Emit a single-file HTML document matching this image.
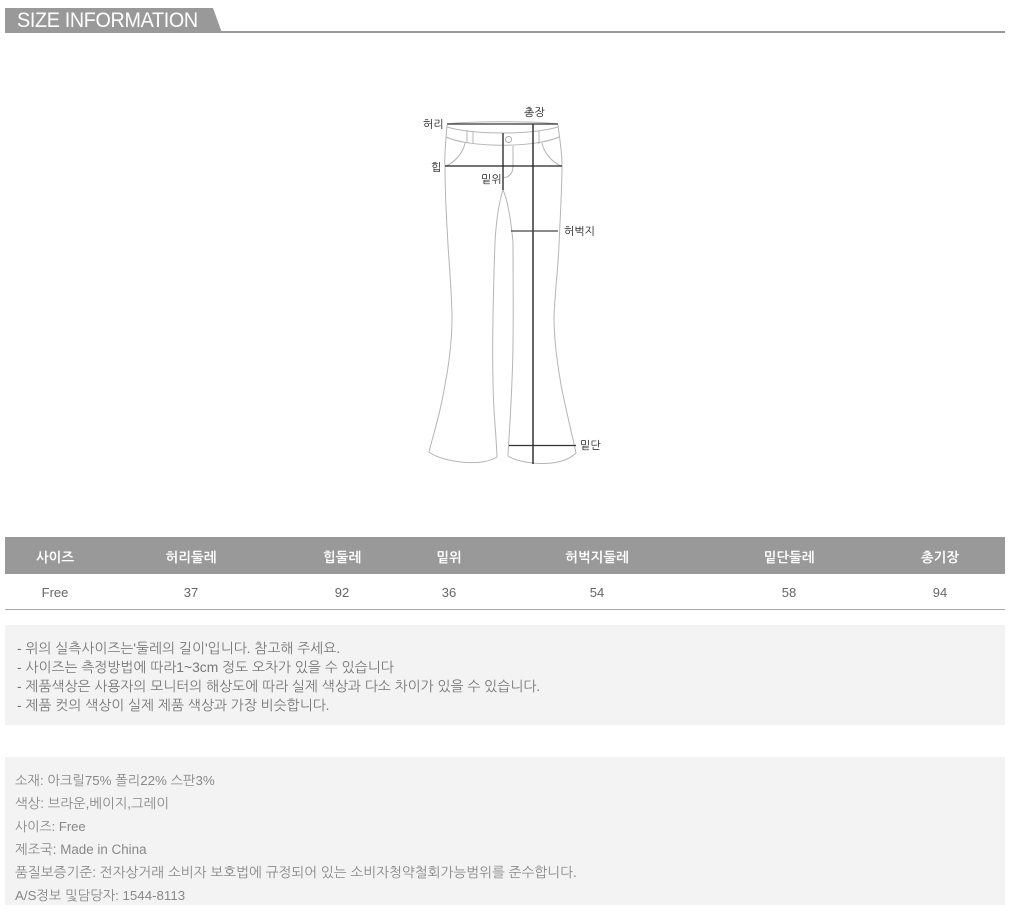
<!DOCTYPE html>
<html lang="ko">
<head>
<meta charset="utf-8">
<style>
html,body{margin:0;padding:0;background:#fff}
body{width:1017px;height:922px;position:relative;overflow:hidden;font-family:"Liberation Sans","NanumGothic","Noto Sans CJK KR",sans-serif;color:#777}
.a{position:absolute;white-space:nowrap}
.hd{top:539px;height:37px;line-height:37px;color:#fff;font-weight:bold;font-size:13.500px;text-align:center;transform:translateX(-50%)}
.td{top:574px;height:36px;line-height:37px;color:#666;font-size:13px;transform:translateX(-50%)}
.n{left:17px;font-size:13.850px;line-height:19px;color:#777}
.i{left:15px;font-size:13.700px;line-height:23px;color:#888}
.l{font-size:11px;line-height:14px;color:#222}
</style>
</head>
<body>
<svg class="a" style="left:0;top:0" width="1017" height="40">
<rect x="5" y="31" width="1000" height="2" fill="#999"/>
<polygon points="5,8 213,8 222,33 5,33" fill="#999"/>
</svg>
<div class="a" style="left:17px;top:8px;line-height:25px;font-size:21px;color:#fff;transform:scaleX(.94);transform-origin:left center;letter-spacing:-.35px">SIZE INFORMATION</div>

<svg class="a" style="left:0;top:0" width="1017" height="520" fill="none">
<g stroke="#b5b5b5" stroke-width="1">
<path d="M447,125 C446,140 444,155 445,166 C445,200 447,225 448,245 C450,275 452,300 452,317 C452,345 448,370 444,390 C440,415 433,435 429,452 C440,461 480,468 497,457 C496,430 493,410 493,380 C492,340 493,300 495,242 C496,225 498,205 503,190 C508,200 511,222 513,242 C513,300 514,340 512,380 C511,410 509,435 508,456 C520,464 560,469 576,453 C571,430 566,410 561,385 C557,360 554,340 554,317 C555,290 558,270 559,245 C560,220 562,190 562,166 C562,150 559,135 558,125"/>
<path d="M447,124 C470,121 535,121 558,124"/>
<path d="M447,127 C475,135 530,135 558,127"/>
<path d="M446,137 C470,148 535,148 559,137"/>
<path d="M467,130 V143 M473,131 V144 M539,131 V144"/>
<path d="M465,143 C463,153 455,162 446,166"/>
<path d="M542,143 C544,153 552,162 561,166"/>
<path d="M513,146 V166 C513,173 510,177 503,178"/>
</g>
<circle cx="508.500" cy="139.500" r="3" stroke="#b0b0b0" fill="#fff"/>
<path d="M447,124 C480,124 530,124 558,124" stroke="#333" stroke-width="1.300"/>
<path d="M503,133 V190" stroke="#555" stroke-width="1.700"/>
<path d="M533,124 V464" stroke="#333" stroke-width="1.500"/>
<path d="M445,166 H562" stroke="#222" stroke-width="1.300"/>
<path d="M511,231 H558" stroke="#444" stroke-width="1.300"/>
<path d="M509,445.500 H576" stroke="#333" stroke-width="1.300"/>
</svg>

<div class="a l" style="left:524px;top:106px">총장</div>
<div class="a l" style="left:423px;top:118px">허리</div>
<div class="a l" style="left:431px;top:161px">힙</div>
<div class="a l" style="left:481px;top:173px">밑위</div>
<div class="a l" style="left:564px;top:225px">허벅지</div>
<div class="a l" style="left:580px;top:439px">밑단</div>

<div class="a" style="left:5px;top:537px;width:1000px;height:37px;background:#999"></div>
<div class="a hd" style="left:55px">사이즈</div>
<div class="a hd" style="left:191px">허리둘레</div>
<div class="a hd" style="left:342px">힙둘레</div>
<div class="a hd" style="left:449px">밑위</div>
<div class="a hd" style="left:597px">허벅지둘레</div>
<div class="a hd" style="left:789px">밑단둘레</div>
<div class="a hd" style="left:940px">총기장</div>
<div class="a td" style="left:55px">Free</div>
<div class="a td" style="left:191px">37</div>
<div class="a td" style="left:342px">92</div>
<div class="a td" style="left:449px">36</div>
<div class="a td" style="left:597px">54</div>
<div class="a td" style="left:789px">58</div>
<div class="a td" style="left:940px">94</div>
<div class="a" style="left:5px;top:609px;width:1000px;height:1px;background:#aaa"></div>

<div class="a" style="left:5px;top:625px;width:1000px;height:100px;background:#f3f3f3"></div>
<div class="a n" style="top:639px">- 위의 실측사이즈는'둘레의 길이'입니다. 참고해 주세요.</div>
<div class="a n" style="top:658px">- 사이즈는 측정방법에 따라1~3cm 정도 오차가 있을 수 있습니다</div>
<div class="a n" style="top:677px">- 제품색상은 사용자의 모니터의 해상도에 따라 실제 색상과 다소 차이가 있을 수 있습니다.</div>
<div class="a n" style="top:696px">- 제품 컷의 색상이 실제 제품 색상과 가장 비슷합니다.</div>

<div class="a" style="left:5px;top:757px;width:1000px;height:148px;background:#f3f3f3"></div>
<div class="a i" style="top:769px;font-size:13.300px">소재: 아크릴75% 폴리22% 스판3%</div>
<div class="a i" style="top:792px;font-size:13.440px">색상: 브라운,베이지,그레이</div>
<div class="a i" style="top:815px;font-size:13px">사이즈: Free</div>
<div class="a i" style="top:838px;font-size:13.400px">제조국: Made in China</div>
<div class="a i" style="top:861px">품질보증기준: 전자상거래 소비자 보호법에 규정되어 있는 소비자청약철회가능범위를 준수합니다.</div>
<div class="a i" style="top:884px;font-size:13.300px">A/S정보 및담당자: 1544-8113</div>
</body>
</html>
